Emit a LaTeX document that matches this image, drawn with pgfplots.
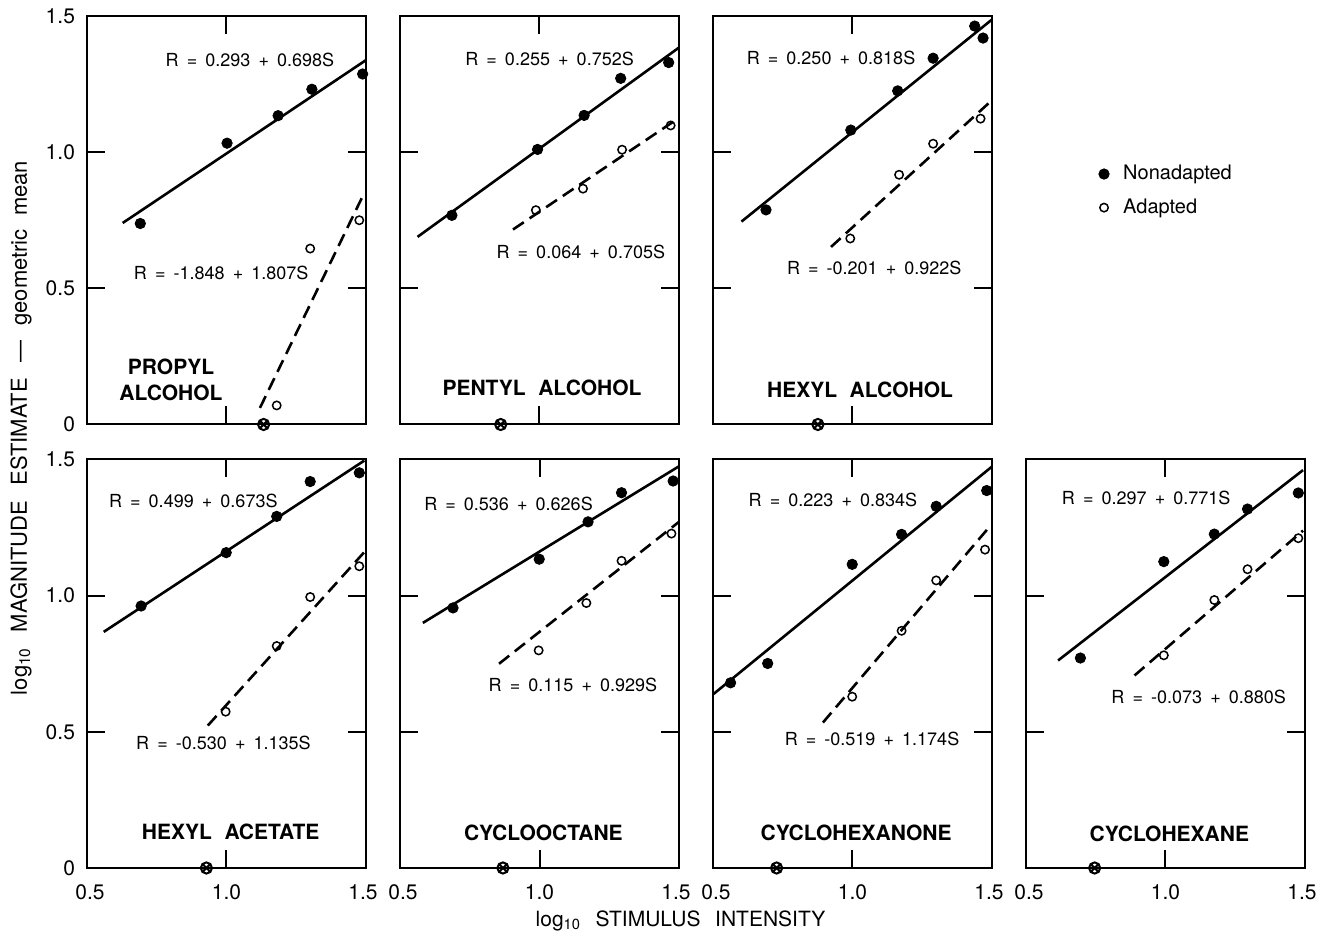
\documentclass[border=0pt]{standalone}
\usepackage{fontspec}
\setmainfont{TeX Gyre Heros}
\usepackage{pgfplots}
\pgfplotsset{compat=1.18}
\usepgfplotslibrary{groupplots}
\usetikzlibrary{calc,plotmarks}

\newcommand{\g}{\hspace{0.45em}}
\newcommand{\eqn}[2]{R\g=\g#1\g+\g#2S}
\newcommand{\wg}{\hspace{0.6em}}
\tikzset{
 eqlab/.style={font=\fontsize{9}{10}\selectfont, inner sep=0pt},
 namelab/.style={font=\fontsize{10.5}{13}\selectfont\bfseries, align=center, inner sep=0pt}
}
\pgfplotsset{
 nonad/.style={only marks, mark=*, mark size=2.6pt, black},
 adapt/.style={only marks, mark=o, mark size=2.1pt, black, mark options={line width=0.75pt}},
 nline/.style={black, line width=1.3pt, no marks, forget plot},
 aline/.style={black, line width=1.3pt, dash pattern=on 6.5pt off 3.5pt, no marks, forget plot},
 thr/.style={only marks, mark=otimes, mark size=2.8pt, black, mark options={line width=1pt}, forget plot}
}

\begin{document}
\begin{tikzpicture}
\begin{groupplot}[
  group style={group size=4 by 2, horizontal sep=17pt, vertical sep=17.5pt,
    xticklabels at=edge bottom, yticklabels at=edge left, group name=group},
  width=139.5pt, height=204.25pt, scale only axis,
  xmin=0.5, xmax=1.5, ymin=0, ymax=1.5,
  xtick={0.5,1,1.5}, ytick={0,0.5,1,1.5},
  xticklabels={\hspace*{3pt}0.5, 1.0, 1.5\hspace*{3pt}}, yticklabels={0,0.5,1.0,1.5},
  major tick length=9pt,
  axis line style={line width=1pt},
  tick style={line width=1pt, black},
  /pgf/number format/assume math mode=true,
  tick label style={font=\fontsize{10.5}{12}\selectfont},
  xticklabel style={yshift=-5pt},
  yticklabel style={xshift=-2.5pt},
  clip=false,
]
% ---- Propyl alcohol
\nextgroupplot
\coordinate (NW) at (rel axis cs:0,1);
\addplot[nline] coordinates {(0.628,0.740) (1.5,1.338)};
\addplot[aline] coordinates {(1.12,0.061) (1.488,0.838)};
\addplot[nonad] coordinates {(0.691,0.738) (1.002,1.033) (1.185,1.134) (1.306,1.231) (1.488,1.287)};
\addplot[adapt] coordinates {(1.180,0.070) (1.300,0.646) (1.476,0.750)};
\addplot[thr] coordinates {(1.133,0)};
\node[eqlab] at (axis cs:1.084,1.338) {\eqn{0.293}{0.698}};
\node[eqlab] at (axis cs:0.981,0.555) {\eqn{-1.848}{1.807}};
\node[namelab] at (axis cs:0.801,0.165) {PROPYL\\ALCOHOL};
% ---- Pentyl alcohol
\nextgroupplot
\addplot[nline] coordinates {(0.563,0.689) (1.5,1.384)};
\addplot[aline] coordinates {(0.905,0.716) (1.5,1.126)};
\addplot[nonad] coordinates {(0.686,0.768) (0.993,1.010) (1.160,1.135) (1.291,1.271) (1.463,1.329)};
\addplot[adapt] coordinates {(0.987,0.787) (1.156,0.866) (1.296,1.009) (1.470,1.098)};
\addplot[thr] coordinates {(0.861,0)};
\node[eqlab] at (axis cs:1.036,1.342) {\eqn{0.255}{0.752}};
\node[eqlab] at (axis cs:1.148,0.634) {\eqn{0.064}{0.705}};
\node[namelab] at (axis cs:1.009,0.134) {PENTYL\wg ALCOHOL};
% ---- Hexyl alcohol
\nextgroupplot[
  legend style={at={(1.36,0.572)}, anchor=west, draw=none, fill=none,
    font=\fontsize{10}{12}\selectfont, row sep=4pt, cells={anchor=west}}]
\addplot[nonad] coordinates {(0.690,0.788) (0.994,1.081) (1.162,1.225) (1.289,1.345) (1.438,1.463) (1.468,1.419)};
\addlegendentry{\hspace*{5pt}Nonadapted}
\addplot[adapt] coordinates {(0.992,0.683) (1.167,0.917) (1.289,1.031) (1.459,1.123)};
\addlegendentry{\hspace*{5pt}Adapted}
\addplot[nline] coordinates {(0.602,0.745) (1.5,1.487)};
\addplot[aline] coordinates {(0.923,0.652) (1.497,1.188)};
\addplot[thr] coordinates {(0.876,0)};
\node[eqlab] at (axis cs:0.923,1.345) {\eqn{0.250}{0.818}};
\node[eqlab] at (axis cs:1.078,0.576) {\eqn{-0.201}{0.922}};
\node[namelab] at (axis cs:1.027,0.129) {HEXYL\wg ALCOHOL};
% ---- empty
\nextgroupplot[group/empty plot]
% ---- Hexyl acetate
\nextgroupplot
\addplot[nline] coordinates {(0.560,0.867) (1.494,1.496)};
\addplot[aline] coordinates {(0.933,0.523) (1.494,1.160)};
\addplot[nonad] coordinates {(0.694,0.962) (0.999,1.158) (1.180,1.291) (1.300,1.419) (1.476,1.451)};
\addplot[adapt] coordinates {(0.997,0.574) (1.180,0.815) (1.300,0.995) (1.476,1.108)};
\addplot[thr] coordinates {(0.928,0)};
\node[eqlab] at (axis cs:0.881,1.346) {\eqn{0.499}{0.673}};
\node[eqlab] at (axis cs:0.989,0.460) {\eqn{-0.530}{1.135}};
\node[namelab] at (axis cs:1.015,0.134) {HEXYL\wg ACETATE};
% ---- Cyclooctane
\nextgroupplot
\addplot[nline] coordinates {(0.582,0.900) (1.5,1.475)};
\addplot[aline] coordinates {(0.855,0.750) (1.5,1.271)};
\addplot[nonad] coordinates {(0.690,0.955) (0.999,1.134) (1.174,1.271) (1.294,1.378) (1.479,1.421)};
\addplot[adapt] coordinates {(0.997,0.799) (1.168,0.973) (1.294,1.128) (1.473,1.228)};
\addplot[thr] coordinates {(0.869,0)};
\node[eqlab] at (axis cs:0.889,1.338) {\eqn{0.536}{0.626}};
\node[eqlab] at (axis cs:1.120,0.673) {\eqn{0.115}{0.929}};
\node[namelab] at (axis cs:1.014,0.128) {CYCLOOCTANE};
% ---- Cyclohexanone
\nextgroupplot
\addplot[nline] coordinates {(0.502,0.639) (1.5,1.474)};
\addplot[aline] coordinates {(0.894,0.534) (1.482,1.242)};
\addplot[nonad] coordinates {(0.563,0.680) (0.696,0.751) (0.999,1.115) (1.176,1.225) (1.300,1.328) (1.481,1.386)};
\addplot[adapt] coordinates {(0.999,0.629) (1.176,0.871) (1.300,1.056) (1.475,1.169)};
\addplot[thr] coordinates {(0.728,0)};
\node[eqlab] at (axis cs:0.930,1.352) {\eqn{0.223}{0.834}};
\node[eqlab] at (axis cs:1.070,0.473) {\eqn{-0.519}{1.174}};
\node[namelab] at (axis cs:1.013,0.130) {CYCLOHEXANONE};
% ---- Cyclohexane
\nextgroupplot
\addplot[nline] coordinates {(0.615,0.762) (1.493,1.461)};
\addplot[aline] coordinates {(0.889,0.707) (1.493,1.239)};
\addplot[nonad] coordinates {(0.695,0.771) (0.994,1.125) (1.175,1.226) (1.294,1.318) (1.476,1.377)};
\addplot[adapt] coordinates {(0.994,0.781) (1.175,0.984) (1.294,1.097) (1.476,1.211)};
\addplot[thr] coordinates {(0.746,0)};
\node[eqlab] at (axis cs:0.931,1.359) {\eqn{0.297}{0.771}};
\node[eqlab] at (axis cs:1.119,0.627) {\eqn{-0.073}{0.880}};
\node[namelab] at (axis cs:1.014,0.125) {CYCLOHEXANE};
\end{groupplot}
\node[rotate=90, font=\fontsize{11}{12}\selectfont, inner sep=0pt] at ($(NW)+(-33pt,-206pt)$)
  {log$_{\mathrm{10}}$\hspace{0.7em}MAGNITUDE\hspace{0.7em}ESTIMATE\hspace{0.7em}---\hspace{0.7em}geometric\hspace{0.6em}mean};
\node[font=\fontsize{10.5}{12}\selectfont, inner sep=0pt] at ($(NW)+(296.75pt,-452.5pt)$)
  {log$_{\mathrm{10}}$\hspace{0.7em}STIMULUS\hspace{0.7em}INTENSITY};
\pgfresetboundingbox
\path[use as bounding box] ($(NW)+(-43.5pt,8pt)$) rectangle ($(NW)+(624pt,-462.5pt)$);
\end{tikzpicture}
\end{document}
